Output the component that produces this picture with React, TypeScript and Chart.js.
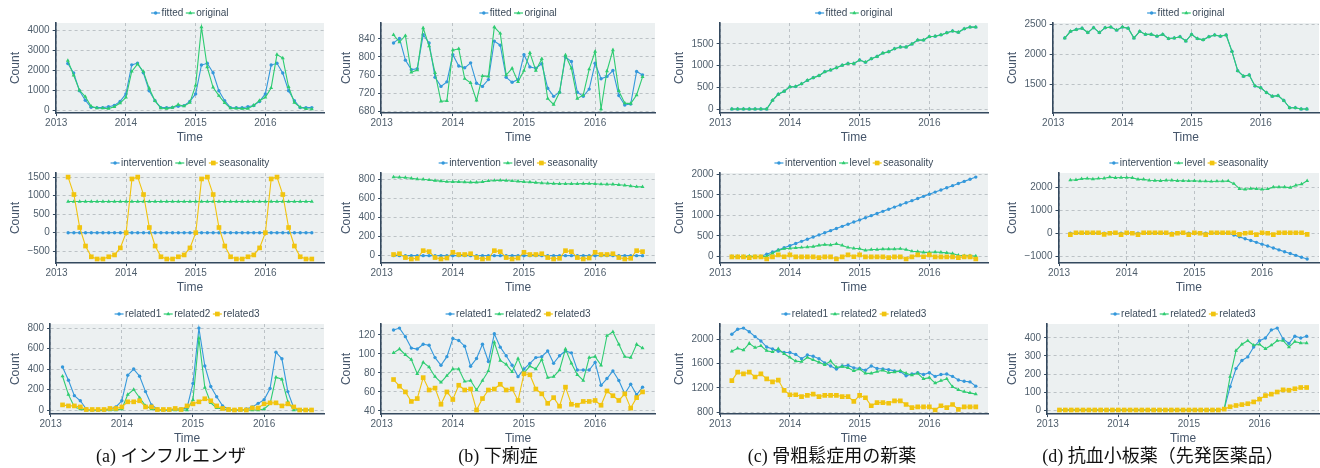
import React, { useEffect, useRef } from "react";
import { Chart, registerables } from "chart.js";

Chart.register(...registerables);

// ---------- time axis (monthly, Mar 2013 .. Sep 2016) ----------
const START_YEAR = 2013;
const START_MONTH = 3;
const N_MONTHS = 43;
const TIME = Array.from({ length: N_MONTHS }, (_, i) => START_YEAR + (START_MONTH - 1 + i) / 12);
const X_TICKS = [2013, 2014, 2015, 2016];

// ---------- (a) influenza ----------
const FLU_FITTED = [2350,1870,980,500,150,130,130,170,240,440,820,2280,2370,1880,980,480,130,130,140,200,230,440,820,2270,2360,1880,980,480,130,120,120,170,240,440,820,2270,2360,1870,980,480,130,130,130];
const FLU_ORIGINAL = [2500,1750,1000,680,200,110,100,80,170,360,640,1950,2320,1950,1100,470,110,80,130,280,200,380,1250,4180,2170,1150,730,370,100,90,80,80,250,480,650,1120,2800,2620,1180,380,150,70,60];
const FLU_INTERVENTION = [0,0,0,0,0,0,0,0,0,0,0,0,0,0,0,0,0,0,0,0,0,0,0,0,0,0,0,0,0,0,0,0,0,0,0,0,0,0,0,0,0,0,0];
const FLU_LEVEL = [840,840,840,840,840,840,840,840,840,840,840,840,840,840,840,840,840,840,840,840,840,840,840,840,840,840,840,840,840,840,840,840,840,840,840,840,840,840,840,840,840,840,840];
const FLU_SEASONALITY = [1500,1030,140,-360,-650,-710,-710,-650,-600,-410,0,1450,1500,1030,140,-360,-650,-710,-710,-650,-600,-410,0,1450,1500,1030,140,-360,-650,-710,-710,-650,-600,-410,0,1450,1500,1030,140,-360,-650,-710,-710];
const FLU_RELATED1 = [420,290,140,90,10,0,0,0,10,30,90,340,400,330,180,50,10,0,0,10,10,20,260,800,430,230,130,40,10,0,0,10,30,65,100,210,565,500,180,20,0,0,0];
const FLU_RELATED2 = [330,150,30,10,0,0,0,0,0,0,10,150,200,120,40,10,0,0,0,0,0,0,100,700,220,70,20,10,0,0,0,0,0,0,10,60,320,300,80,0,0,0,0];
const FLU_RELATED3 = [50,40,40,30,5,5,5,5,15,15,30,80,80,90,30,30,5,5,5,15,5,40,60,80,110,90,40,15,5,0,5,0,20,20,60,70,70,40,60,30,0,0,0];

// ---------- (b) diarrhea ----------
const DIA_FITTED = [831,841,793,772,774,849,831,755,735,745,805,780,776,787,742,735,750,835,826,755,744,750,805,778,775,785,731,713,722,800,790,722,713,729,786,752,757,770,715,694,696,768,760];
const DIA_ORIGINAL = [849,833,847,766,771,864,824,765,702,703,815,818,752,743,704,758,757,866,852,760,775,745,770,809,770,796,708,695,722,804,775,708,716,773,812,685,769,815,725,698,697,716,756];
const DIA_INTERVENTION = [0,0,0,0,0,0,0,0,0,0,0,0,0,0,0,0,0,0,0,0,0,0,0,0,0,0,0,0,0,0,0,0,0,0,0,0,0,0,0,0,0,0,0];
const DIA_LEVEL = [820,818,815,808,800,797,790,783,778,772,770,770,768,765,765,770,780,785,786,784,780,775,770,767,762,758,755,752,750,750,749,750,752,752,750,746,745,745,740,735,727,720,718];
const DIA_SEASONALITY = [12,20,-20,-35,-28,52,42,-20,-35,-25,35,12,12,20,-20,-35,-28,52,42,-20,-35,-25,35,12,12,20,-20,-35,-28,52,42,-20,-35,-25,35,12,12,20,-20,-35,-28,52,42];
const DIA_RELATED1 = [125,127,118,106,105,110,109,96,88,97,116,114,108,87,95,110,92,121,107,98,88,76,84,90,96,97,103,90,98,103,101,83,83,83,91,67,74,82,72,58,68,57,65];
const DIA_RELATED2 = [101,105,99,94,79,91,86,76,70,77,84,84,71,72,62,72,82,112,93,89,81,95,80,87,84,94,75,76,83,105,90,78,72,96,97,88,119,123,110,97,96,110,106];
const DIA_RELATED3 = [73,66,60,50,53,75,62,64,47,60,52,67,62,63,41,53,62,63,68,62,63,51,79,78,63,58,48,54,45,65,47,46,50,50,51,46,61,56,51,58,43,54,60];

// ---------- (c) osteoporosis new drug ----------
const OST_FITTED = [0,0,0,0,0,0,0,200,340,410,510,520,580,660,720,770,860,900,950,1010,1050,1050,1130,1080,1160,1210,1290,1320,1390,1430,1430,1500,1590,1590,1670,1680,1710,1760,1800,1770,1850,1890,1890];
const OST_ORIGINAL = [0,0,0,0,0,0,0,200,340,410,510,520,580,660,720,770,860,900,950,1010,1050,1050,1130,1080,1160,1210,1290,1320,1390,1430,1430,1500,1590,1590,1670,1680,1710,1760,1800,1770,1850,1890,1890];
const OST_INTERVENTION = [0,0,0,0,0,5,57,109,161,213,265,317,369,421,473,525,577,629,681,733,785,837,889,941,993,1045,1097,1149,1201,1253,1305,1357,1409,1461,1513,1565,1617,1669,1721,1773,1825,1877,1929];
const OST_LEVEL = [0,0,0,10,0,0,0,80,150,190,200,210,220,230,240,270,290,280,310,270,220,200,190,150,170,170,180,180,180,190,170,130,120,100,100,110,100,90,70,30,20,20,10];
const OST_SEASONALITY = [-10,-10,-10,-25,-10,-10,-60,-10,40,-5,40,-10,-10,-10,-10,-25,-10,-10,-60,-10,40,-5,40,-10,-10,-10,-10,-25,-10,-10,-60,-10,40,-5,40,-10,-10,-10,-10,-25,-10,-10,-60];
const OST_RELATED1 = [2080,2160,2180,2120,2040,1970,1870,1840,1800,1780,1780,1750,1680,1740,1720,1680,1610,1560,1510,1560,1570,1530,1520,1490,1560,1520,1510,1500,1480,1470,1400,1430,1450,1420,1450,1390,1420,1430,1390,1330,1310,1300,1230];
const OST_RELATED2 = [1800,1850,1820,1930,1860,1890,1810,1790,1840,1760,1700,1640,1630,1700,1660,1620,1580,1640,1540,1550,1530,1480,1510,1440,1440,1470,1490,1450,1460,1480,1440,1410,1440,1350,1370,1280,1320,1350,1220,1170,1140,1120,1100];
const OST_RELATED3 = [1320,1460,1430,1460,1380,1430,1350,1300,1330,1160,1090,1090,1060,1080,1100,1060,1080,1080,1080,1060,1060,980,1080,1040,910,960,960,950,990,990,930,880,890,890,890,840,910,880,930,850,890,890,890];

// ---------- (d) antiplatelet (brand) ----------
const ANT_FITTED = [2270,2380,2410,2430,2360,2440,2360,2440,2450,2400,2450,2430,2270,2380,2330,2330,2300,2330,2260,2270,2290,2220,2330,2260,2240,2290,2320,2300,2320,2050,1730,1640,1660,1480,1450,1370,1310,1320,1240,1120,1120,1100,1100];
const ANT_ORIGINAL = [2270,2380,2410,2430,2360,2440,2360,2440,2450,2400,2450,2430,2270,2380,2330,2330,2300,2330,2260,2270,2290,2220,2330,2260,2240,2290,2320,2300,2320,2050,1730,1640,1660,1480,1450,1370,1310,1320,1240,1120,1120,1100,1100];
const ANT_INTERVENTION = [0,0,0,0,0,0,0,0,0,0,0,0,0,0,0,0,0,0,0,0,0,0,0,0,0,0,0,0,0,-80,-160,-240,-320,-400,-480,-560,-650,-730,-810,-890,-970,-1050,-1130];
const ANT_LEVEL = [2330,2340,2380,2400,2370,2400,2410,2460,2430,2440,2440,2430,2360,2360,2320,2310,2300,2320,2320,2300,2300,2290,2300,2280,2280,2270,2280,2280,2290,2170,1950,1920,1960,1950,1920,1940,2020,2020,2020,2000,2100,2150,2300];
const ANT_SEASONALITY = [-60,20,20,20,20,20,-50,0,20,-60,20,0,-60,20,20,20,20,20,-50,0,20,-60,20,0,-60,20,20,20,20,20,-50,0,20,-60,20,0,-60,20,20,20,20,20,-50];
const ANT_RELATED1 = [0,0,0,0,0,0,0,0,0,0,0,0,0,0,0,0,0,0,0,0,0,0,0,0,0,0,0,0,5,130,230,275,295,350,385,400,445,455,395,370,410,400,410];
const ANT_RELATED2 = [0,0,0,0,0,0,0,0,0,0,0,0,0,0,0,0,0,0,0,0,0,0,0,0,0,0,0,0,5,185,330,365,385,360,365,340,360,385,385,350,380,372,372];
const ANT_RELATED3 = [0,0,0,0,0,0,0,0,0,0,0,0,0,0,0,0,0,0,0,0,0,0,0,0,0,0,0,0,5,18,25,30,35,45,60,80,88,100,112,110,118,125,125];

// ---------- y tick labels ----------
const Y_TICKS_A1 = [0, 1000, 2000, 3000, 4000];
const Y_TICKS_B1 = [680, 720, 760, 800, 840];
const Y_TICKS_C1 = [0, 500, 1000, 1500];
const Y_TICKS_D1 = [1500, 2000, 2500];
const Y_TICKS_A2 = [-500, 0, 500, 1000, 1500];
const Y_TICKS_B2 = [0, 200, 400, 600, 800];
const Y_TICKS_C2 = [0, 500, 1000, 1500, 2000];
const Y_TICKS_D2 = [-1000, 0, 1000, 2000];
const Y_TICKS_A3 = [0, 200, 400, 600, 800];
const Y_TICKS_B3 = [40, 60, 80, 100, 120];
const Y_TICKS_C3 = [800, 1200, 1600, 2000];
const Y_TICKS_D3 = [0, 100, 200, 300, 400];

const CAPTIONS = ["(a) インフルエンザ", "(b) 下痢症", "(c) 骨粗鬆症用の新薬", "(d) 抗血小板薬（先発医薬品）"];

// ---------- styling ----------
const FONT = '"Liberation Sans", Arial, Helvetica, sans-serif';
const PLOT_BG = "#ecf0f1";
const GRID = "#bcc2c6";
const AXIS = "#34495e";
const TICK_COLOR = "#4f5e6c";
const TITLE_COLOR = "#45556a";
const LEGEND_COLOR = "#3b4a5a";

type StyleKey = "blue" | "green" | "yellow";
const STYLES: Record<StyleKey, { color: string; point: string; radius: number }> = {
  blue: { color: "#3498db", point: "circle", radius: 1.7 },
  green: { color: "#2ecc71", point: "triangle", radius: 2.3 },
  yellow: { color: "#f1c40f", point: "rect", radius: 3.3 },
};

type Series = { label: string; data: number[]; style: StyleKey };
type PanelSpec = { col: number; row: number; yTicks: number[]; series: Series[] };

const PANELS: PanelSpec[] = [
  { col: 0, row: 0, yTicks: Y_TICKS_A1, series: [
    { label: "fitted", data: FLU_FITTED, style: "blue" },
    { label: "original", data: FLU_ORIGINAL, style: "green" } ] },
  { col: 1, row: 0, yTicks: Y_TICKS_B1, series: [
    { label: "fitted", data: DIA_FITTED, style: "blue" },
    { label: "original", data: DIA_ORIGINAL, style: "green" } ] },
  { col: 2, row: 0, yTicks: Y_TICKS_C1, series: [
    { label: "fitted", data: OST_FITTED, style: "blue" },
    { label: "original", data: OST_ORIGINAL, style: "green" } ] },
  { col: 3, row: 0, yTicks: Y_TICKS_D1, series: [
    { label: "fitted", data: ANT_FITTED, style: "blue" },
    { label: "original", data: ANT_ORIGINAL, style: "green" } ] },
  { col: 0, row: 1, yTicks: Y_TICKS_A2, series: [
    { label: "intervention", data: FLU_INTERVENTION, style: "blue" },
    { label: "level", data: FLU_LEVEL, style: "green" },
    { label: "seasonality", data: FLU_SEASONALITY, style: "yellow" } ] },
  { col: 1, row: 1, yTicks: Y_TICKS_B2, series: [
    { label: "intervention", data: DIA_INTERVENTION, style: "blue" },
    { label: "level", data: DIA_LEVEL, style: "green" },
    { label: "seasonality", data: DIA_SEASONALITY, style: "yellow" } ] },
  { col: 2, row: 1, yTicks: Y_TICKS_C2, series: [
    { label: "intervention", data: OST_INTERVENTION, style: "blue" },
    { label: "level", data: OST_LEVEL, style: "green" },
    { label: "seasonality", data: OST_SEASONALITY, style: "yellow" } ] },
  { col: 3, row: 1, yTicks: Y_TICKS_D2, series: [
    { label: "intervention", data: ANT_INTERVENTION, style: "blue" },
    { label: "level", data: ANT_LEVEL, style: "green" },
    { label: "seasonality", data: ANT_SEASONALITY, style: "yellow" } ] },
  { col: 0, row: 2, yTicks: Y_TICKS_A3, series: [
    { label: "related1", data: FLU_RELATED1, style: "blue" },
    { label: "related2", data: FLU_RELATED2, style: "green" },
    { label: "related3", data: FLU_RELATED3, style: "yellow" } ] },
  { col: 1, row: 2, yTicks: Y_TICKS_B3, series: [
    { label: "related1", data: DIA_RELATED1, style: "blue" },
    { label: "related2", data: DIA_RELATED2, style: "green" },
    { label: "related3", data: DIA_RELATED3, style: "yellow" } ] },
  { col: 2, row: 2, yTicks: Y_TICKS_C3, series: [
    { label: "related1", data: OST_RELATED1, style: "blue" },
    { label: "related2", data: OST_RELATED2, style: "green" },
    { label: "related3", data: OST_RELATED3, style: "yellow" } ] },
  { col: 3, row: 2, yTicks: Y_TICKS_D3, series: [
    { label: "related1", data: ANT_RELATED1, style: "blue" },
    { label: "related2", data: ANT_RELATED2, style: "green" },
    { label: "related3", data: ANT_RELATED3, style: "yellow" } ] },
];

const COL_LEFT = [0, 331, 664, 997];
const COL_WIDTH = [328, 328, 328, 326];
const ROW_TOP = [0, 150, 301];
const PANEL_H = 148;
const CAPTION_CENTER = [171, 498, 832, 1163];

function drawMarker(ctx: CanvasRenderingContext2D, point: string, x: number, y: number, r: number, color: string) {
  ctx.fillStyle = color;
  ctx.beginPath();
  if (point === "circle") {
    ctx.arc(x, y, r, 0, Math.PI * 2);
  } else if (point === "triangle") {
    let rad = 0;
    ctx.moveTo(x + Math.sin(rad) * r, y - Math.cos(rad) * r);
    rad += (2 * Math.PI) / 3;
    ctx.lineTo(x + Math.sin(rad) * r, y - Math.cos(rad) * r);
    rad += (2 * Math.PI) / 3;
    ctx.lineTo(x + Math.sin(rad) * r, y - Math.cos(rad) * r);
    ctx.closePath();
  } else {
    const s = r * Math.SQRT1_2;
    ctx.rect(x - s, y - s, 2 * s, 2 * s);
  }
  ctx.fill();
}

const bgPlugin = {
  id: "plotBg",
  beforeDraw(chart: any) {
    const { ctx, chartArea } = chart;
    ctx.save();
    ctx.fillStyle = PLOT_BG;
    ctx.fillRect(chartArea.left, chartArea.top, chartArea.right - chartArea.left, chartArea.bottom - chartArea.top);
    ctx.restore();
  },
};

const legendPlugin = {
  id: "lineLegend",
  afterDraw(chart: any) {
    const { ctx, chartArea } = chart;
    const series: Series[] = chart.options.plugins.lineLegend.series;
    ctx.save();
    ctx.font = `10px ${FONT}`;
    ctx.textBaseline = "middle";
    const markerW = 9;
    const gapText = 1.5;
    const gapItem = 2.5;
    const widths = series.map((s) => ctx.measureText(s.label).width);
    const total = widths.reduce((a, w) => a + markerW + gapText + w, 0) + gapItem * (series.length - 1);
    let x = (chartArea.left + chartArea.right) / 2 - total / 2;
    const y = chartArea.top - 10;
    series.forEach((s, i) => {
      const st = STYLES[s.style];
      ctx.strokeStyle = st.color;
      ctx.lineWidth = 1.2;
      ctx.beginPath();
      ctx.moveTo(x, y);
      ctx.lineTo(x + markerW, y);
      ctx.stroke();
      drawMarker(ctx, st.point, x + markerW / 2, y, st.radius, st.color);
      x += markerW + gapText;
      ctx.fillStyle = LEGEND_COLOR;
      ctx.fillText(s.label, x, y + 0.5);
      x += widths[i] + gapItem;
    });
    ctx.restore();
  },
};

function fmt(v: number) {
  return String(v).replace("-", "\u2212");
}

function Panel({ spec }: { spec: PanelSpec }) {
  const ref = useRef<HTMLCanvasElement | null>(null);
  const width = COL_WIDTH[spec.col];
  useEffect(() => {
    if (!ref.current) return;
    const all = spec.series.flatMap((s) => s.data);
    const lo = Math.min(...all);
    const hi = Math.max(...all);
    const pad = (hi - lo) * 0.05;
    const xlo = TIME[0];
    const xhi = TIME[TIME.length - 1];
    const xpad = (xhi - xlo) * 0.05;
    const n = spec.series.length;
    const chart = new Chart(ref.current, {
      type: "line",
      data: {
        datasets: spec.series.map((s, i) => {
          const st = STYLES[s.style];
          return {
            label: s.label,
            data: s.data.map((v, k) => ({ x: TIME[k], y: v })),
            borderColor: st.color,
            backgroundColor: st.color,
            borderWidth: 1.1,
            pointStyle: st.point as any,
            pointRadius: st.radius,
            pointBackgroundColor: st.color,
            pointBorderColor: st.color,
            pointBorderWidth: 0,
            tension: 0,
            fill: false,
            order: n - i,
          };
        }),
      },
      options: {
        responsive: false,
        animation: false,
        devicePixelRatio: 1,
        events: [],
        layout: { padding: { top: 23, left: 4, right: 3, bottom: 3.5 } },
        plugins: {
          legend: { display: false },
          tooltip: { enabled: false },
          lineLegend: { series: spec.series },
        } as any,
        scales: {
          x: {
            type: "linear",
            min: xlo - xpad,
            max: xhi + xpad,
            afterBuildTicks: (scale: any) => {
              scale.ticks = X_TICKS.map((v) => ({ value: v }));
            },
            ticks: {
              callback: (v: any) => fmt(Number(v)),
              font: { size: 10, family: FONT },
              color: TICK_COLOR,
              padding: 1,
              maxRotation: 0,
              autoSkip: false,
            },
            grid: { color: GRID, lineWidth: 1, tickLength: 3, tickColor: AXIS, drawTicks: true },
            border: { display: true, color: AXIS, width: 1.6, dash: [3, 3] },
            title: { display: true, text: "Time", font: { size: 12, family: FONT }, color: TITLE_COLOR, padding: { top: 0, bottom: 0 } },
          },
          y: {
            type: "linear",
            min: lo - pad,
            max: hi + pad,
            afterBuildTicks: (scale: any) => {
              scale.ticks = spec.yTicks.map((v) => ({ value: v }));
            },
            ticks: {
              callback: (v: any) => fmt(Number(v)),
              font: { size: 10, family: FONT },
              color: TICK_COLOR,
              padding: 3,
              autoSkip: false,
            },
            grid: { color: GRID, lineWidth: 1, tickLength: 3, tickColor: AXIS, drawTicks: true },
            border: { display: true, color: AXIS, width: 1.6, dash: [3, 3] },
            title: { display: true, text: "Count", font: { size: 12, family: FONT }, color: TITLE_COLOR, padding: { top: 4, bottom: 2 } },
          },
        },
      } as any,
      plugins: [bgPlugin, legendPlugin],
    });
    return () => chart.destroy();
  }, [spec]);
  return (
    <canvas
      ref={ref}
      width={width}
      height={PANEL_H}
      style={{ position: "absolute", left: COL_LEFT[spec.col], top: ROW_TOP[spec.row], width, height: PANEL_H }}
    />
  );
}

export default function App() {
  return (
    <div style={{ position: "absolute", left: 0, top: 0, width: 1320, height: 468, overflow: "hidden", background: "#ffffff" }}>
      {PANELS.map((p, i) => (
        <Panel key={i} spec={p} />
      ))}
      {CAPTIONS.map((c, i) => (
        <div
          key={"cap" + i}
          style={{
            position: "absolute",
            left: CAPTION_CENTER[i] - 165,
            top: 446,
            width: 330,
            textAlign: "center",
            fontFamily: '"Liberation Serif", "Times New Roman", "Noto Sans CJK JP", serif',
            fontSize: 18,
            lineHeight: "20px",
            color: "#111",
            whiteSpace: "nowrap",
          }}
        >
          {c}
        </div>
      ))}
    </div>
  );
}
